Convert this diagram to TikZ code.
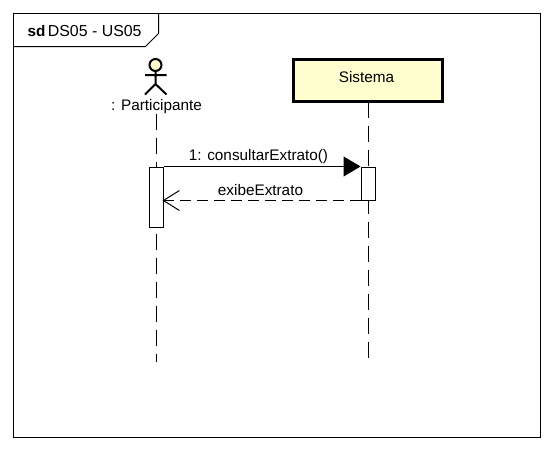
\documentclass[tikz,border=0pt]{standalone}
\usepackage{fontspec}
\setmainfont{Liberation Sans}
\usetikzlibrary{arrows.meta}
\definecolor{creme}{HTML}{FEFECE}
\tikzset{
	rotulo/.style={inner sep=0pt,font=\fontsize{15.3}{17}\selectfont},
	classe/.style={draw,line width=3pt,fill=creme,minimum width=149pt,minimum height=42pt,inner sep=0pt,font=\fontsize{15.3}{17}\selectfont},
	ativacao/.style={draw,line width=1pt,fill=white,minimum width=14pt,inner sep=0pt},
	vida/.style={line width=1pt,dash pattern=on 16pt off 8pt},
	corpo/.style={line width=2pt},
}
\begin{document}
\begin{tikzpicture}[x=1pt,y=-1pt,join=miter,line width=1pt]
	\useasboundingbox (0,0) rectangle (552,450);
	% moldura
	\coordinate (F1) at (13.5,13.5);
	\coordinate (F2) at (540.5,437.5);
	\draw (F1) rectangle (F2);
	\coordinate (T1) at (13.5,46.5);
	\coordinate (T2) at (145.5,46.5);
	\coordinate (T3) at (158.5,33.5);
	\coordinate (T4) at (158.5,13.5);
	\draw (T1)--(T2)--(T3)--(T4);
	\node[rotulo,anchor=base west] (titulo) at (27,36) {\textbf{sd}\,\fontsize{15.9}{17}\selectfont DS05 - US05};
	% ator
	\node[circle,draw,line width=2pt,fill=creme,minimum size=12pt,inner sep=0pt] (cabeca) at (155.5,65) {};
	\coordinate (ombroE) at (145,75);
	\coordinate (ombroD) at (166.5,75);
	\coordinate (quadril) at (155.5,84);
	\coordinate (peE) at (145,94.5);
	\coordinate (peD) at (166.5,94.5);
	\draw[corpo] (cabeca)--(quadril) (ombroE)--(ombroD) (peE)--(quadril)--(peD);
	\node[rotulo] (participante) at (156.5,107) {: Participante};
	\node[classe] (sistema) at (368,80.5) {\hspace*{-3pt}\raisebox{7pt}{Sistema}};
	% linhas de vida
	\coordinate (v1) at (156,114);
	\coordinate (f1) at (156,362);
	\coordinate (v2) at (368,102);
	\coordinate (f2) at (368,358);
	\draw[vida] (v1)--(f1);
	\draw[vida] (v2)--(f2);
	% ativacoes
	\node[ativacao,minimum height=60pt,anchor=north] (atv1) at (156,166.5) {};
	\node[ativacao,minimum height=33pt,anchor=north] (atv2) at (368,166.5) {};
	% mensagens
	\draw[-{Triangle[length=17pt,width=20pt]}] (atv1.north east)--(atv2.north west);
	\draw[dash pattern=on 11pt off 6pt,shorten >=-1pt,-{Straight Barb[length=16pt,width=20pt]}] (atv2.south west)--(atv1.east |- atv2.south);
	\node[rotulo] (consulta) at (258.5,157) {1: consultarExtrato()};
	\node[rotulo] (exibe) at (260.5,190) {exibeExtrato};
\end{tikzpicture}
\end{document}
